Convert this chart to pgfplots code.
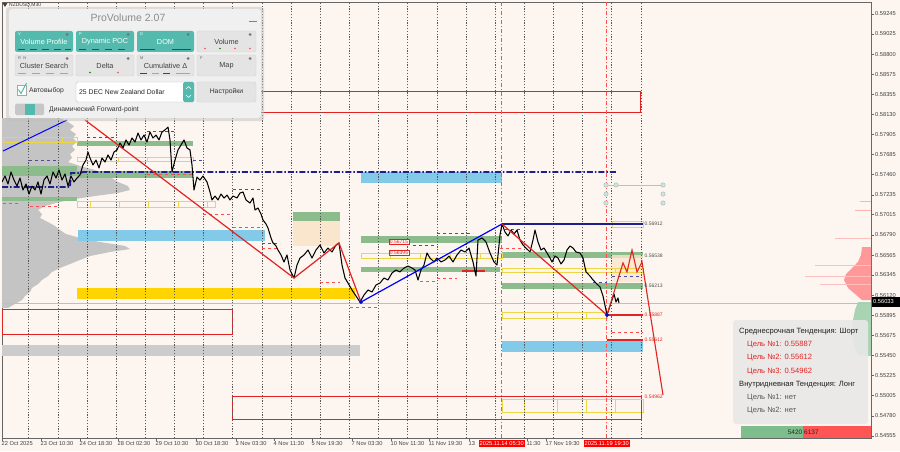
\documentclass[border=0pt]{standalone}
\usepackage{fontspec}
\setmainfont{Liberation Sans}
\usepackage{pgfplots}
\pgfplotsset{compat=1.18}
\definecolor{bgc}{RGB}{253,246,240}
\definecolor{zgreen}{RGB}{140,188,140}
\definecolor{zblue}{RGB}{130,202,232}
\definecolor{zgold}{RGB}{255,212,0}
\definecolor{zyel}{RGB}{236,214,70}
\definecolor{navy}{RGB}{30,30,140}
\definecolor{beige}{RGB}{250,230,205}
\definecolor{zred}{RGB}{225,35,35}
\definecolor{tealb}{RGB}{84,186,174}
\definecolor{panelbg}{RGB}{240,240,240}
\definecolor{btn}{RGB}{228,228,228}
\definecolor{pgray}{RGB}{196,196,196}
\definecolor{pgreen}{RGB}{168,212,180}
\definecolor{bgreen}{RGB}{125,190,140}
\definecolor{bred}{RGB}{255,85,85}
\newcommand\fs[1]{\fontsize{#1}{#1}\selectfont}
\newcommand\zone[5]{\addplot[#5] coordinates {(#1,#3)(#2,#3)(#2,#4)(#1,#4)} -- cycle;}
\newcommand\hl[4]{\addplot[#4] coordinates {(#1,#3)(#2,#3)};}
\newcommand\ybox[4]{\addplot[draw=zyel, line width=0.8pt] coordinates {(#1,#3)(#2,#3)(#2,#4)(#1,#4)} -- cycle;}
\begin{document}
\begin{tikzpicture}[x=1pt,y=1pt]
\fill[bgc] (0,0) rectangle (900,451);
\begin{axis}[at={(2pt,13pt)}, anchor=south west, scale only axis,
  width=869pt, height=436pt, xmin=2, xmax=871, ymin=0.545327, ymax=0.593784,
  axis background/.style={fill=bgc},
  axis line style={draw=black!60, line width=0.6pt},
  scaled y ticks=false, scaled x ticks=false,
  xtick pos=bottom, ytick pos=right, yticklabel pos=right,
  tick align=outside, major tick length=3pt,
  tick style={black!60, line width=0.5pt},
  ytick={0.59245,0.59025,0.58800,0.58575,0.58355,0.58130,0.57905,0.57685,0.57460,0.57235,0.57015,0.56790,0.56565,0.56345,0.56120,0.55895,0.55675,0.55450,0.55225,0.55005,0.54780,0.54555},
  yticklabel style={font=\fs{5.7}, text=black!75, inner sep=1pt,
    /pgf/number format/.cd, fixed, fixed zerofill, precision=5, assume math mode=true},
  xtick={2,41,80,118,156,196,236,274,312,352,391,429,469,527,546},
  xticklabels={22 Oct 2025,23 Oct 10:30,24 Oct 18:30,28 Oct 02:30,29 Oct 10:30,30 Oct 18:30,3 Nov 03:30,4 Nov 11:30,5 Nov 19:30,7 Nov 03:30,10 Nov 11:30,11 Nov 19:30,13,11:30,17 Nov 19:30},
  xticklabel style={font=\fs{5.7}, text=black!75, anchor=north west, inner sep=0.5pt, xshift=-1pt},
]
% ---- left volume profile
\addplot[fill=pgray, draw=none] coordinates {(2,0.58089)(60,0.58089)(68,0.58045)(74,0.58000)(70,0.57956)(76,0.57911)(73,0.57867)(77,0.57822)(72,0.57778)(75,0.57734)(70,0.57689)(72,0.57645)(68,0.57600)(80,0.57556)(95,0.57511)(105,0.57467)(112,0.57422)(118,0.57378)(128,0.57333)(130,0.57289)(118,0.57256)(95,0.57222)(75,0.57189)(60,0.57156)(45,0.57111)(38,0.57067)(42,0.57022)(40,0.56978)(48,0.56933)(55,0.56889)(60,0.56844)(66,0.56800)(80,0.56756)(100,0.56711)(125,0.56667)(130,0.56633)(110,0.56600)(90,0.56555)(80,0.56511)(70,0.56467)(60,0.56422)(52,0.56378)(48,0.56333)(42,0.56289)(38,0.56244)(32,0.56200)(30,0.56155)(25,0.56111)(22,0.56066)(15,0.56022)(8,0.55978)(2,0.55978)} -- cycle;
% ---- right volume profile
\addplot[fill=red!40, draw=none] coordinates {(871,0.56655)(862,0.56655)(861,0.56567)(858,0.56489)(852,0.56422)(846,0.56355)(844,0.56289)(848,0.56200)(855,0.56133)(862,0.56066)(871,0.56066)} -- cycle;
\addplot[fill=pgreen, draw=none] coordinates {(871,0.56044)(858,0.56044)(855,0.55955)(853,0.55844)(852,0.55677)(854,0.55566)(858,0.55455)(871,0.55444)} -- cycle;
\hl{835}{871}{0.56756}{red!25, line width=0.8pt}
\hl{815}{871}{0.56455}{red!25, line width=0.8pt}
\hl{805}{871}{0.56333}{red!25, line width=0.8pt}
\hl{820}{871}{0.56244}{red!25, line width=0.8pt}
\hl{855}{871}{0.57067}{red!30, line width=0.8pt}
\hl{860}{871}{0.57167}{red!30, line width=0.8pt}
% ---- zones
\zone{2}{77}{0.57556}{0.57445}{fill=zgreen, draw=none}
\zone{77}{193}{0.57500}{0.57422}{fill=zgreen, draw=none}
\zone{77}{193}{0.57834}{0.57778}{fill=zgreen, draw=none}
\zone{2}{77}{0.57211}{0.57167}{fill=zgreen, draw=none}
\zone{293}{340}{0.57044}{0.56944}{fill=zgreen, draw=none}
\zone{293}{340}{0.56944}{0.56667}{fill=beige, draw=none}
\zone{361}{502}{0.56778}{0.56700}{fill=zgreen, draw=none}
\zone{361}{500}{0.56433}{0.56378}{fill=zgreen, draw=none}
\zone{502}{643}{0.56600}{0.56533}{fill=zgreen, draw=none}
\zone{502}{643}{0.56255}{0.56189}{fill=zgreen, draw=none}
\zone{612}{643}{0.56567}{0.56267}{fill=beige, fill opacity=0.8, draw=none}
\zone{78}{265}{0.56844}{0.56722}{fill=zblue, draw=none}
\zone{361}{502}{0.57489}{0.57367}{fill=zblue, draw=none}
\zone{502}{643}{0.55611}{0.55488}{fill=zblue, draw=none}
\zone{77}{355}{0.56200}{0.56078}{fill=zgold, draw=none}
\zone{2}{360}{0.55566}{0.55444}{fill=black!20, draw=none}
\zone{240}{640}{0.58389}{0.58156}{draw=zred, line width=0.9pt}
\zone{2}{232}{0.55966}{0.55689}{draw=zred, line width=0.9pt}
\zone{232}{641}{0.54999}{0.54744}{draw=zred, line width=0.9pt}
% ---- yellow boxes
\ybox{3}{33}{0.57878}{0.57822}\ybox{33}{62}{0.57878}{0.57822}\ybox{62}{77}{0.57878}{0.57822}
\ybox{77}{118}{0.57656}{0.57611}\ybox{118}{147}{0.57656}{0.57611}\ybox{147}{175}{0.57656}{0.57611}\ybox{175}{193}{0.57656}{0.57611}
\ybox{77}{90}{0.57167}{0.57100}\ybox{90}{119}{0.57167}{0.57100}\ybox{119}{148}{0.57167}{0.57100}\ybox{148}{178}{0.57167}{0.57100}\ybox{178}{207}{0.57167}{0.57100}\ybox{207}{215}{0.57167}{0.57100}
\ybox{361}{390}{0.56589}{0.56533}\ybox{390}{420}{0.56589}{0.56533}\ybox{420}{450}{0.56589}{0.56533}\ybox{450}{480}{0.56589}{0.56533}\ybox{480}{502}{0.56589}{0.56533}
\ybox{502}{524}{0.56422}{0.56378}\ybox{524}{557}{0.56422}{0.56378}\ybox{557}{586}{0.56422}{0.56378}\ybox{586}{615}{0.56422}{0.56378}\ybox{615}{643}{0.56422}{0.56378}
\ybox{612}{643}{0.56944}{0.56878}
\ybox{502}{524}{0.55933}{0.55866}\ybox{524}{557}{0.55933}{0.55866}\ybox{557}{586}{0.55933}{0.55866}\ybox{586}{607}{0.55933}{0.55866}
\ybox{502}{524}{0.54966}{0.54822}\ybox{524}{557}{0.54966}{0.54822}\ybox{557}{586}{0.54966}{0.54822}\ybox{586}{615}{0.54966}{0.54822}\ybox{615}{643}{0.54966}{0.54822}
% ---- grid lines
\pgfplotsinvokeforeach{28.7,57.8,87.0,116.1,145.3,174.4,203.6,232.7,261.9,291.0,320.2,349.3,378.5,407.6,436.8,465.9,495.1,524.2,553.4,582.5,611.7,640.8}{
  \draw[black!65, line width=0.45pt, dash pattern=on 1.2pt off 1.6pt] (axis cs:#1,0.545327) -- (axis cs:#1,0.593784);}
\draw[red!70, line width=0.6pt, dash pattern=on 4pt off 2pt on 1pt off 2pt] (axis cs:501.7,0.545327) -- (axis cs:501.7,0.593784);
\draw[red!70, line width=0.6pt, dash pattern=on 4pt off 2pt on 1pt off 2pt] (axis cs:606.7,0.545327) -- (axis cs:606.7,0.593784);
% current price line
\hl{2}{871}{0.56033}{black!25, line width=0.4pt}
% ---- dashed level marks
\hl{87}{117}{0.57878}{navy!80, dashed, line width=0.5pt}
\hl{29}{58}{0.57622}{navy!80, dashed, line width=0.5pt}
\hl{147}{175}{0.57945}{navy!80, dashed, line width=0.5pt}
\hl{193}{203}{0.57622}{navy!80, dashed, line width=0.5pt}
\hl{233}{262}{0.57300}{navy!80, dashed, line width=0.5pt}
\hl{262}{280}{0.56700}{navy!80, dashed, line width=0.5pt}
\hl{437}{473}{0.56811}{navy!80, dashed, line width=0.5pt}
\hl{413}{435}{0.56678}{navy!80, dashed, line width=0.5pt}
\hl{505}{523}{0.56856}{navy!80, dashed, line width=0.5pt}
\hl{593}{607}{0.56267}{navy!80, dashed, line width=0.5pt}
\hl{612}{640}{0.56333}{navy!80, dashed, line width=0.5pt}
\hl{233}{262}{0.56878}{red!70, dashed, line width=0.5pt}
\hl{203}{233}{0.57022}{red!70, dashed, line width=0.5pt}
\hl{262}{280}{0.56644}{red!70, dashed, line width=0.5pt}
\hl{3}{20}{0.57144}{red!70, dashed, line width=0.5pt}
\hl{30}{58}{0.57111}{red!70, dashed, line width=0.5pt}
\hl{147}{193}{0.57467}{red!70, dashed, line width=0.5pt}
\hl{320}{340}{0.56267}{red!70, dashed, line width=0.5pt}
\hl{350}{377}{0.55989}{red!70, dashed, line width=0.5pt}
\hl{420}{437}{0.56278}{red!70, dashed, line width=0.5pt}
\hl{437}{457}{0.56311}{red!70, dashed, line width=0.5pt}
\hl{500}{523}{0.56644}{red!70, dashed, line width=0.5pt}
\hl{612}{643}{0.55711}{red!70, dashed, line width=0.5pt}
% ---- target lines
\hl{502}{643}{0.56911}{navy, line width=1.2pt}
\hl{607}{643}{0.55900}{zred, line width=1.2pt}
\hl{607}{643}{0.55622}{zred, line width=1.2pt}
\hl{462}{485}{0.56389}{zred, line width=2pt}
% ---- dynamic POC
\addplot[navy, line width=1.8pt, dash pattern=on 6pt off 2pt on 1.5pt off 2pt] coordinates {(2,0.57322)(70,0.57322)(71,0.57478)(80,0.57478)(83,0.57489)(617,0.57489)};
% ---- circles
\hl{606}{663}{0.57345}{black!25, line width=0.5pt}
\addplot[only marks, mark=*, mark size=2.2pt, mark options={fill=tealb!35, draw=black!30}] coordinates {(606,0.57345)(616,0.57345)(663,0.57345)(606,0.57244)(663,0.57244)(606,0.57144)(663,0.57144)};
% ---- price
\addplot[black, line width=1.05pt, line join=round] coordinates {
(2,0.57378)(5,0.57445)(8,0.57356)(11,0.57489)(14,0.57400)(17,0.57333)(20,0.57422)(23,0.57289)(26,0.57356)(29,0.57244)(32,0.57333)(35,0.57289)(38,0.57378)(41,0.57244)(44,0.57400)(47,0.57445)(50,0.57356)(53,0.57489)(56,0.57422)(59,0.57511)(62,0.57400)(65,0.57467)(68,0.57333)(71,0.57445)(74,0.57378)(77,0.57422)
(80,0.57456)(83,0.57567)(86,0.57622)(88,0.57711)(90,0.57645)(93,0.57567)(96,0.57622)(99,0.57534)(102,0.57645)(105,0.57600)(108,0.57678)(111,0.57622)(114,0.57711)(117,0.57734)(120,0.57811)(123,0.57756)(126,0.57845)(129,0.57789)(132,0.57867)(135,0.57822)(138,0.57922)(141,0.57845)(144,0.57900)(147,0.57822)(150,0.57934)(153,0.57867)(156,0.57900)(159,0.57845)(162,0.57934)(165,0.57956)(168,0.57989)(170,0.57845)(172,0.57489)(175,0.57622)(178,0.57734)(181,0.57789)(184,0.57845)(187,0.57756)(190,0.57734)(192,0.57567)(194,0.57289)
(197,0.57433)(200,0.57400)(203,0.57445)(207,0.57378)(210,0.57267)(212,0.57178)(215,0.57222)(218,0.57178)(221,0.57244)(224,0.57200)(227,0.57233)(230,0.57178)(233,0.57222)(237,0.57200)(240,0.57256)(243,0.57267)(246,0.57178)(250,0.57144)(253,0.57200)(255,0.57067)(258,0.57089)(261,0.57022)(263,0.56956)(266,0.56911)(268,0.56867)(271,0.56756)(273,0.56700)(276,0.56667)(278,0.56622)(281,0.56567)(284,0.56489)(287,0.56567)(290,0.56400)(294,0.56311)
(297,0.56455)(300,0.56533)(304,0.56567)(308,0.56622)(312,0.56533)(316,0.56622)(320,0.56678)(324,0.56589)(328,0.56644)(332,0.56600)(336,0.56678)(339,0.56700)(342,0.56455)(345,0.56311)(348,0.56255)(352,0.56178)(356,0.56111)(360,0.56044)(364,0.56122)(368,0.56178)(372,0.56155)(376,0.56233)(380,0.56255)(384,0.56311)(388,0.56289)(392,0.56367)(396,0.56400)(400,0.56378)(404,0.56422)(408,0.56444)(412,0.56422)(415,0.56400)(418,0.56289)(421,0.56400)(424,0.56455)(427,0.56589)(430,0.56533)(434,0.56489)(437,0.56533)(441,0.56489)(445,0.56511)(449,0.56555)(453,0.56489)(457,0.56567)(461,0.56622)(465,0.56600)(469,0.56644)(473,0.56489)(476,0.56333)(478,0.56733)(482,0.56756)(486,0.56711)(490,0.56589)(494,0.56489)(497,0.56455)(500,0.56789)(502,0.56911)
(505,0.56822)(508,0.56778)(511,0.56844)(514,0.56800)(517,0.56844)(520,0.56733)(523,0.56678)(526,0.56644)(530,0.56600)(533,0.56733)(535,0.56844)(538,0.56711)(541,0.56622)(544,0.56644)(547,0.56589)(550,0.56533)(552,0.56489)(555,0.56555)(558,0.56533)(561,0.56467)(564,0.56511)(567,0.56622)(570,0.56667)(573,0.56644)(576,0.56600)(580,0.56589)(583,0.56533)(586,0.56378)(590,0.56333)(593,0.56289)(597,0.56244)(600,0.56211)(603,0.56111)(607,0.55900)(610,0.56000)(612,0.56066)(614,0.56133)(616,0.56044)(618,0.56089)(619,0.56033)};
% ---- zigzag
\addplot[zred, line width=1.2pt] coordinates {(85,0.58067)(294,0.56311)(339,0.56700)(361,0.56044)};
\addplot[blue, line width=1.2pt] coordinates {(361,0.56044)(502,0.56911)};
\addplot[blue, line width=1pt] coordinates {(3,0.57722)(67,0.58067)};
\addplot[zred, line width=1.2pt] coordinates {(502,0.56911)(607,0.55900)};
\addplot[zred, line width=1.1pt] coordinates {(607,0.55900)(623,0.56478)(627,0.56378)(632,0.56622)(637,0.56378)(642,0.56489)(663,0.55011)};
\addplot[only marks, mark=*, mark size=1.8pt, mark options={fill=blue, draw=navy}] coordinates {(361,0.56044)(607,0.55900)};
% ---- labels in chart
\node[draw=zred, fill=bgc, text=zred, font=\fs{5}, inner sep=0.8pt] at (axis cs:399,0.56711) {0.56715};
\node[draw=zred, fill=bgc, text=zred, font=\fs{5}, inner sep=0.8pt] at (axis cs:399,0.56589) {0.56395};
\node[anchor=west, font=\fs{5}, text=black!70, inner sep=0.5pt] at (axis cs:644,0.56911) {0.56912};
\node[anchor=west, font=\fs{5}, text=black!70, inner sep=0.5pt] at (axis cs:644,0.56556) {0.56538};
\node[anchor=west, font=\fs{5}, text=black!70, inner sep=0.5pt] at (axis cs:644,0.56222) {0.56213};
\node[anchor=west, font=\fs{5}, text=zred, inner sep=0.5pt] at (axis cs:644,0.55900) {0.55887};
\node[anchor=west, font=\fs{5}, text=zred, inner sep=0.5pt] at (axis cs:644,0.55622) {0.55612};
\node[anchor=west, font=\fs{5}, text=zred, inner sep=0.5pt] at (axis cs:644,0.54988) {0.54962};
\end{axis}
\begin{scope}[shift={(0,451)}, yscale=-1]
% top-left symbol label
\fill[black!75] (2.5,3) -- (7.5,3) -- (5,7) -- cycle;
\node[anchor=west, font=\fs{5}, text=black!80, inner sep=0] at (9,5.5) {NZDUSD,M30};
% panel
\fill[black!25, opacity=0.5, rounded corners=3] (6,7) rectangle (264,121);
\fill[panelbg, rounded corners=3] (9,9) rectangle (261,118);
\node[font=\fs{10.5}, text=black!45] at (128,18) {ProVolume 2.07};
\draw[black!50, line width=0.8pt] (249,21) -- (257,21);
% row 1
\fill[tealb, rounded corners=2] (15,31) rectangle (73,52);
\fill[tealb, rounded corners=2] (76,31) rectangle (134,52);
\fill[tealb, rounded corners=2] (137,31) rectangle (194,52);
\filldraw[fill=btn, draw=black!18, rounded corners=2] (197,31) rectangle (256,52);
\node[font=\fs{7.3}, text=white] at (44,42) {Volume Profile};
\node[font=\fs{7.3}, text=white] at (105,42) {Dynamic POC};
\node[font=\fs{7.3}, text=white] at (165.5,42) {DOM};
\node[font=\fs{7.3}, text=black!75] at (226.5,42) {Volume};
% row 2
\filldraw[fill=btn, draw=black!18, rounded corners=2] (15,55) rectangle (73,76);
\filldraw[fill=btn, draw=black!18, rounded corners=2] (76,55) rectangle (134,76);
\filldraw[fill=btn, draw=black!18, rounded corners=2] (137,55) rectangle (194,76);
\filldraw[fill=btn, draw=black!18, rounded corners=2] (197,55) rectangle (256,76);
\node[font=\fs{7.3}, text=black!75] at (44,66) {Cluster Search};
\node[font=\fs{7.3}, text=black!75] at (105,66) {Delta};
\node[font=\fs{7.3}, text=black!75] at (165.5,66) {Cumulative Δ};
\node[font=\fs{7.3}, text=black!75] at (226.5,66) {Map};
% small letters and gears
\node[font=\fs{4}, text=white, anchor=west, inner sep=0] at (18,34) {V};
\node[font=\fs{4}, text=white, anchor=west, inner sep=0] at (79,34) {P};
\node[font=\fs{4}, text=white, anchor=west, inner sep=0] at (140,34) {D};
\node[font=\fs{4}, text=black!60, anchor=west, inner sep=0] at (18,58) {R\ \ N};
\node[font=\fs{4}, text=black!60, anchor=west, inner sep=0] at (140,58) {M};
\node[font=\fs{4}, text=black!60, anchor=west, inner sep=0] at (200,58) {F};
\foreach \gx in {67,128,188,250} {\fill[black!55] (\gx,34.5) circle (1.5); \fill[black!55] (\gx,58.5) circle (1.5);}
% indicators
\draw[black!55!tealb, line width=0.6pt] (18,49)--(25,49) (30,49)--(37,49) (42,49)--(49,49) (54,49)--(61,49) (65,49)--(71,49);
\draw[black!55!tealb, line width=0.6pt] (79,49)--(86,49) (92,49)--(99,49) (105,49)--(112,49) (118,49)--(125,49);
\draw[black!55!tealb, line width=0.6pt] (140,49)--(155,49) (172,49)--(191,49);
\fill[red!70] (205,48.5) circle (0.9); \fill[green!50!black] (220,48.5) circle (0.9); \fill[red!70] (235,48.5) circle (0.9); \fill[red!70] (250,48.5) circle (0.9);
\draw[red!50, line width=0.6pt] (18,73)--(26,73) (32,73)--(40,73) (46,73)--(54,73) (60,73)--(68,73);
\fill[green!50!black] (90,72.5) circle (0.9); \fill[red!70] (118,72.5) circle (0.9);
\draw[green!45!black, line width=0.6pt] (140,73)--(147,73) (163,73)--(170,73);
\draw[red!50, line width=0.6pt] (152,73)--(159,73) (176,73)--(190,73);
% row 3
\filldraw[fill=white, draw=black!35] (17,85) rectangle (26,95);
\draw[tealb, line width=1pt] (18.5,89.5) -- (21,93.5) -- (26.5,83);
\node[font=\fs{6.8}, text=black!80, anchor=west, inner sep=0] at (29,91) {Автовыбор};
\filldraw[fill=white, draw=black!25, rounded corners=1.5] (76,82) rectangle (194,102);
\node[font=\fs{6.8}, text=black!85, anchor=west, inner sep=0] at (79,92) {25 DEC New Zealand Dollar};
\fill[tealb, rounded corners=1.5] (183,82) rectangle (194,102);
\draw[white, line width=0.6pt] (186,89)--(188.5,86.5)--(191,89) (186,95)--(188.5,97.5)--(191,95);
\filldraw[fill=btn, draw=black!18, rounded corners=2] (197,82) rectangle (256,102);
\node[font=\fs{6.8}, text=black!80] at (226.5,92) {Настройки};
% row 4
\fill[black!22, rounded corners=1.5] (15,103.5) rectangle (44,115);
\fill[tealb] (25,104) rectangle (35,114.5);
\node[font=\fs{6.8}, text=black!80, anchor=west, inner sep=0] at (49,110) {Динамический Forward-point};
% info box
\fill[black!9, fill opacity=0.9, rounded corners=3] (733,320) rectangle (868,424);
\node[font=\fs{7.6}, text=black!88, anchor=west, inner sep=0] at (739,332) {Среднесрочная Тенденция: Шорт};
\node[font=\fs{7.6}, text=zred, anchor=west, inner sep=0] at (747,345) {Цель №1: 0.55887};
\node[font=\fs{7.6}, text=zred, anchor=west, inner sep=0] at (747,358) {Цель №2: 0.55612};
\node[font=\fs{7.6}, text=zred, anchor=west, inner sep=0] at (747,371.5) {Цель №3: 0.54962};
\node[font=\fs{7.6}, text=black!88, anchor=west, inner sep=0] at (739,385) {Внутридневная Тенденция: Лонг};
\node[font=\fs{7.6}, text=black!65, anchor=west, inner sep=0] at (747,398) {Цель №1: нет};
\node[font=\fs{7.6}, text=black!65, anchor=west, inner sep=0] at (747,411) {Цель №2: нет};
% bottom bar
\fill[bgreen] (741,426) rectangle (803,437.5);
\fill[bred] (803,426) rectangle (870.5,437.5);
\node[font=\fs{6.5}, text=black!85, anchor=east, inner sep=0.5pt] at (803,432) {5420};
\node[font=\fs{6.5}, text=black!85, anchor=west, inner sep=0.5pt] at (803.5,432) {6137};
% current price tag
\fill[black] (871.5,297) rectangle (900,307);
\node[font=\fs{5.7}, text=white, anchor=west, inner sep=0] at (873,302) {0.56033};
% red time labels
\node[fill=red, text=white, font=\fs{5.7}, inner sep=1pt] at (501.7,443.5) {2025.11.14 05:30};
\node[fill=red, text=white, font=\fs{5.7}, inner sep=1pt] at (606.7,443.5) {2025.11.19 19:30};
\end{scope}
\end{tikzpicture}
\end{document}
